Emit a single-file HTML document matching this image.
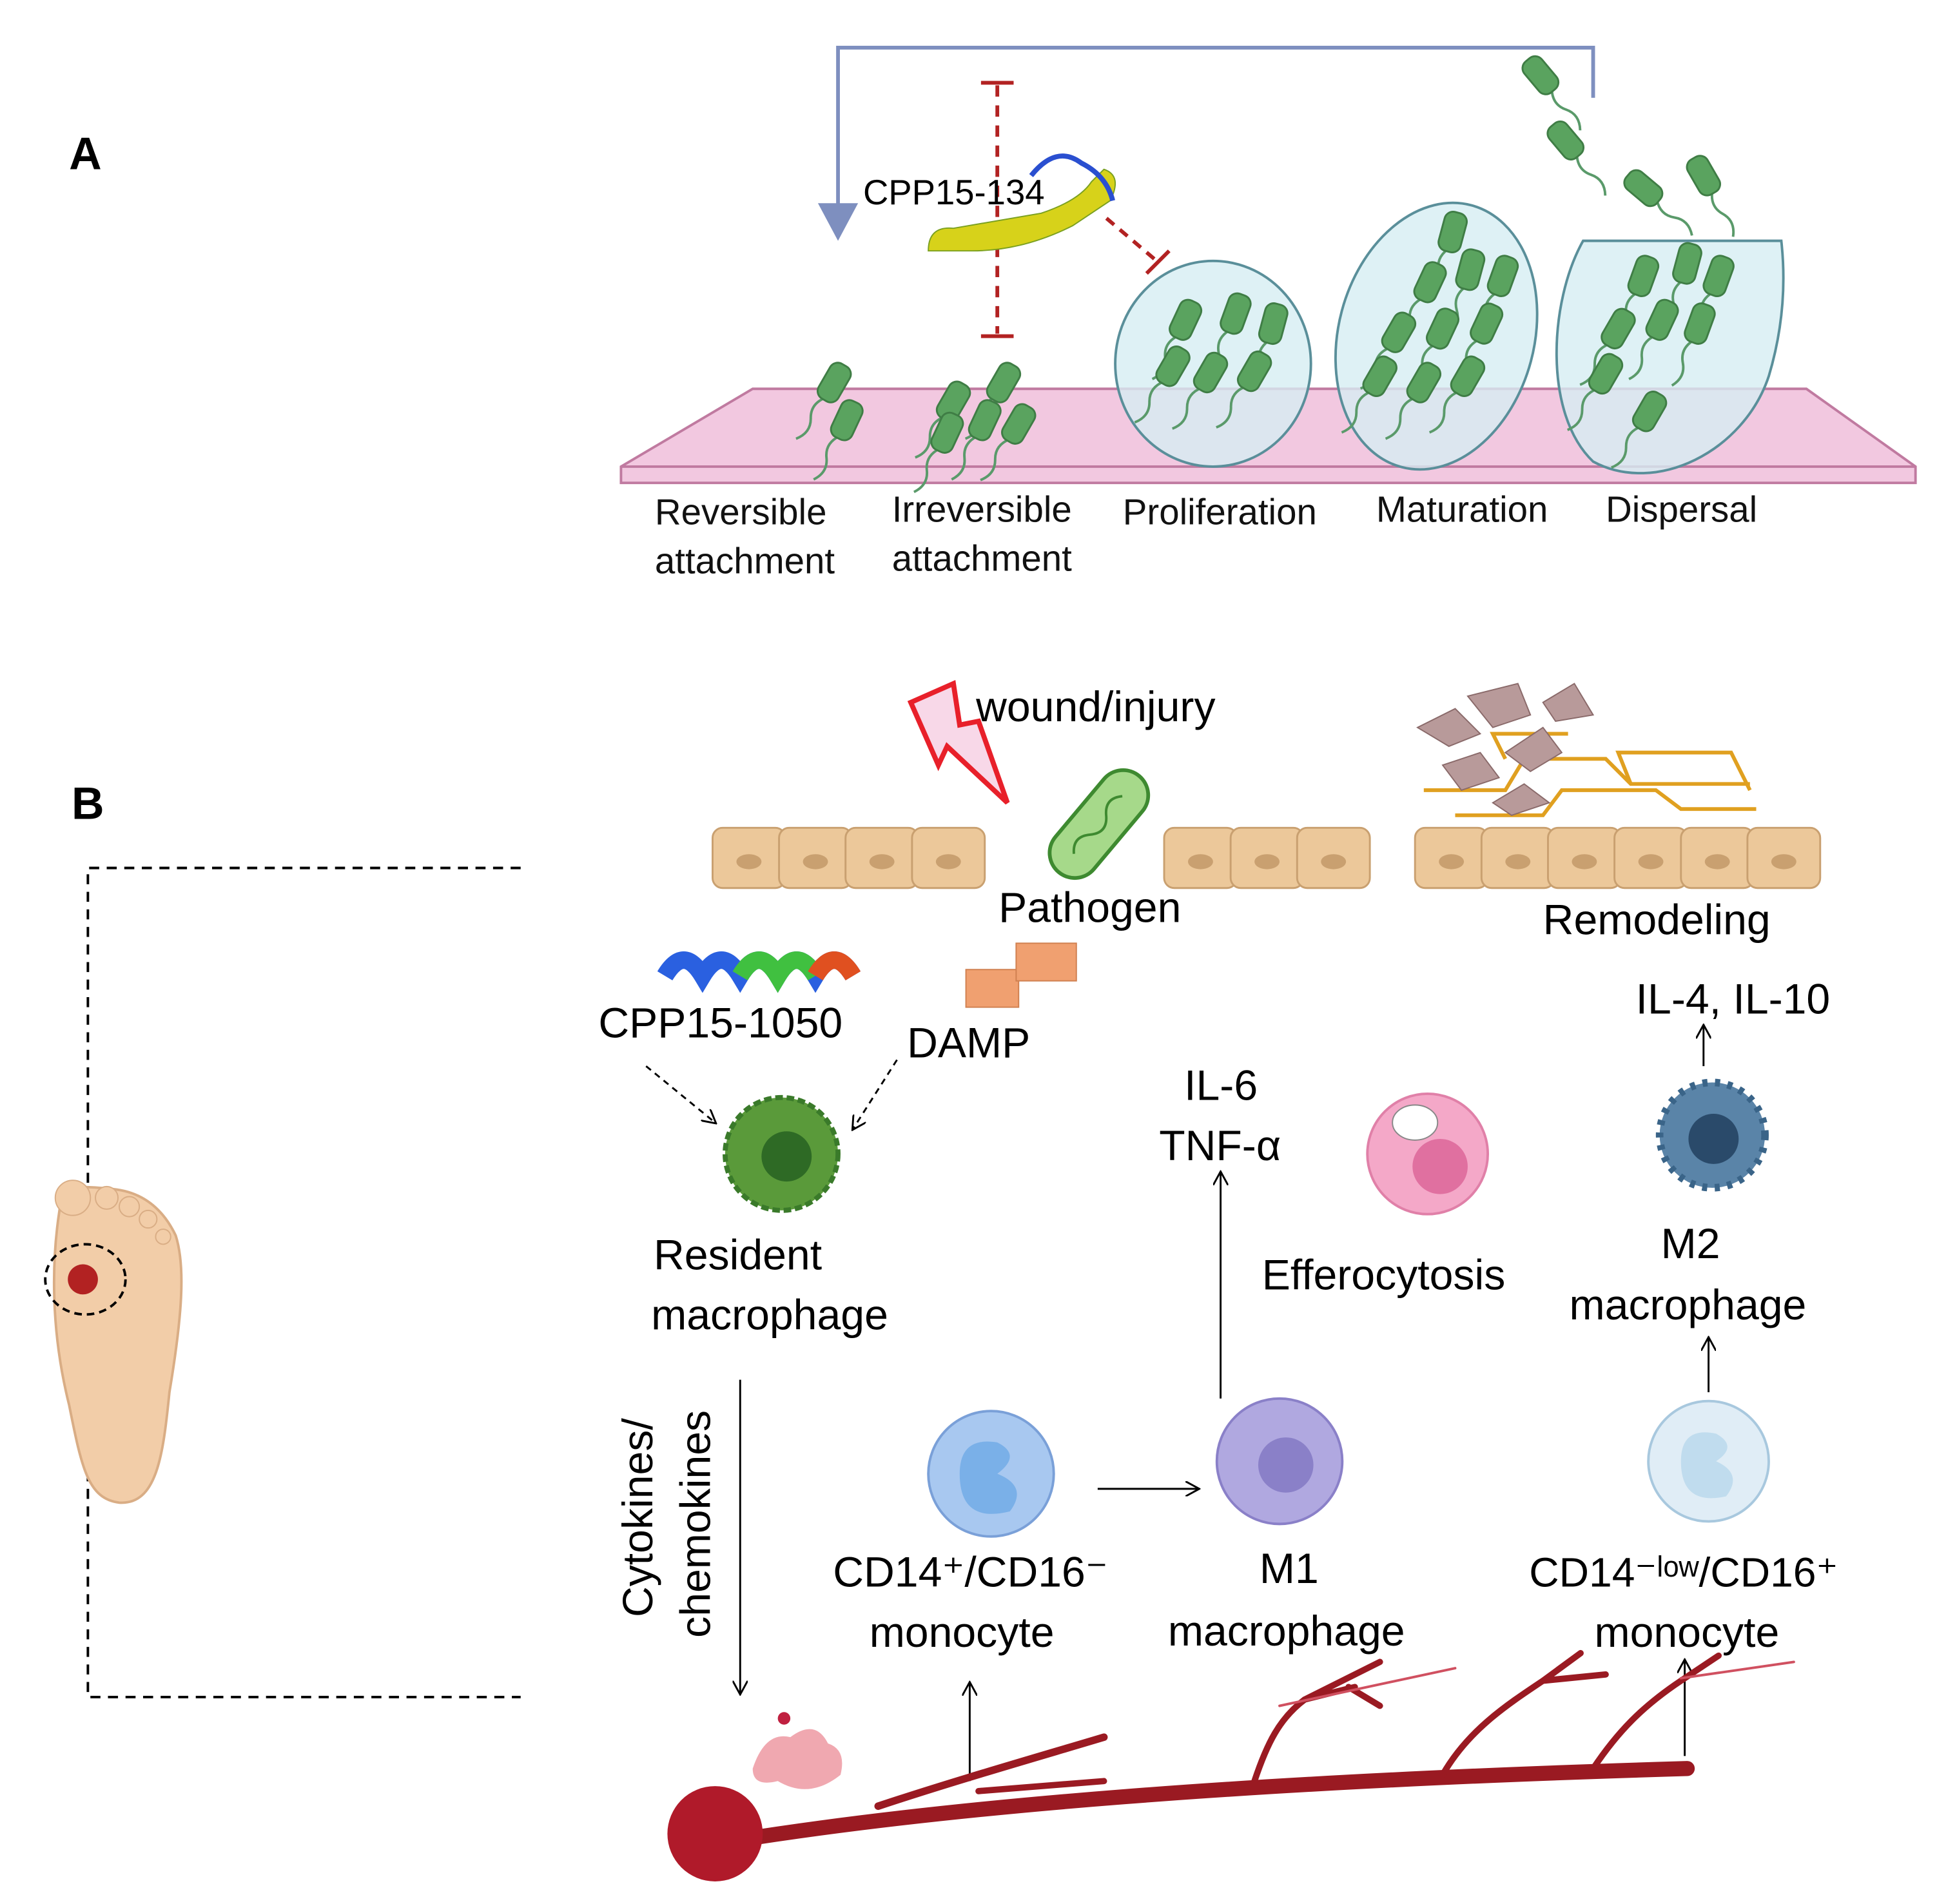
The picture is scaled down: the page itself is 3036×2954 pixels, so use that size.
<!DOCTYPE html>
<html><head><meta charset="utf-8"><style>html,body{margin:0;padding:0;background:#fff}svg{display:block}</style></head>
<body>
<svg width="3036" height="2954" viewBox="0 0 1560 1518" xmlns="http://www.w3.org/2000/svg" font-family="Liberation Sans, DejaVu Sans, sans-serif">
<defs>
<g id="bac"><path d="M0,14 q-8,10 -2,20 q6,10 -2,20" stroke="#5a9a6a" stroke-width="2" fill="none"/><rect x="-9" y="-16" width="18" height="32" rx="7" fill="#5aa35f" stroke="#3f7d45" stroke-width="1.5"/></g>
<g id="cell"><rect x="0" y="0" width="58" height="48" rx="8" fill="#ecc89a" stroke="#c9a070" stroke-width="1.5"/><ellipse cx="29" cy="27" rx="10" ry="6" fill="#c9a070"/></g>
<marker id="ah" markerWidth="12" markerHeight="12" refX="10" refY="6" orient="auto" markerUnits="userSpaceOnUse"><path d="M0,0 L11,6 L0,12" fill="none" stroke="#000" stroke-width="1.5"/></marker>
</defs>
<rect width="1560" height="1518" fill="#fff"/>
<!-- A -->
<text x="55" y="135" font-size="36" font-weight="bold">A</text>
<path d="M1270,78 V38 H668 V165" fill="none" stroke="#7e8fbf" stroke-width="3"/>
<path d="M652,162 L684,162 L668,192 Z" fill="#7e8fbf"/>
<g stroke="#b22222" stroke-width="3" fill="none">
<path d="M795,68 V266" stroke-dasharray="9,7"/><path d="M782,66 H808 M782,268 H808"/>
<path d="M882,174 L922,208" stroke-dasharray="8,6"/><path d="M914,218 L932,200"/>
</g>
<text x="688" y="163" font-size="28">CPP15-134</text>
<path d="M740,200 q0,-20 20,-18 l70,-12 q30,-10 40,-25 l10,-10 q15,5 5,25 l-30,20 q-40,20 -80,20 z" fill="#d7d21a" stroke="#7aa020"/>
<path d="M822,140 q20,-25 40,-10 q20,10 25,30" fill="none" stroke="#2a4fd0" stroke-width="4"/>
<path d="M495,372 L600,310 L1440,310 L1527,372 L1527,385 L495,385 Z" fill="#f2c8e0" stroke="#c07aa0" stroke-width="2"/>
<path d="M495,372 H1527" stroke="#c07aa0" stroke-width="2"/>
<ellipse cx="967" cy="290" rx="78" ry="82" fill="#d6eef2" fill-opacity="0.8" stroke="#5a8f9a" stroke-width="2"/>
<ellipse cx="1145" cy="268" rx="78" ry="108" transform="rotate(15 1145 268)" fill="#d6eef2" fill-opacity="0.8" stroke="#5a8f9a" stroke-width="2"/>
<path d="M1262,192 C1235,240 1230,330 1270,368 C1320,395 1390,360 1410,300 C1425,250 1422,210 1420,192 Z" fill="#d6eef2" fill-opacity="0.8" stroke="#5a8f9a" stroke-width="2"/>
<g>
<use href="#bac" transform="translate(665,305) rotate(30)"/><use href="#bac" transform="translate(675,335) rotate(25)"/>
<use href="#bac" transform="translate(760,320) rotate(30)"/><use href="#bac" transform="translate(800,305) rotate(30)"/><use href="#bac" transform="translate(785,335) rotate(25)"/><use href="#bac" transform="translate(812,338) rotate(30)"/><use href="#bac" transform="translate(755,345) rotate(25)"/>
<use href="#bac" transform="translate(945,255) rotate(25)"/><use href="#bac" transform="translate(985,250) rotate(20)"/><use href="#bac" transform="translate(1015,258) rotate(15)"/><use href="#bac" transform="translate(935,292) rotate(30)"/><use href="#bac" transform="translate(965,297) rotate(30)"/><use href="#bac" transform="translate(1000,296) rotate(30)"/>
<use href="#bac" transform="translate(1158,185) rotate(15)"/><use href="#bac" transform="translate(1140,225) rotate(25)"/><use href="#bac" transform="translate(1172,215) rotate(15)"/><use href="#bac" transform="translate(1198,220) rotate(20)"/><use href="#bac" transform="translate(1115,265) rotate(30)"/><use href="#bac" transform="translate(1150,262) rotate(25)"/><use href="#bac" transform="translate(1185,258) rotate(25)"/><use href="#bac" transform="translate(1100,300) rotate(30)"/><use href="#bac" transform="translate(1135,305) rotate(30)"/><use href="#bac" transform="translate(1170,300) rotate(30)"/>
<use href="#bac" transform="translate(1310,220) rotate(20)"/><use href="#bac" transform="translate(1345,210) rotate(15)"/><use href="#bac" transform="translate(1370,220) rotate(20)"/><use href="#bac" transform="translate(1290,262) rotate(30)"/><use href="#bac" transform="translate(1325,255) rotate(25)"/><use href="#bac" transform="translate(1355,258) rotate(20)"/><use href="#bac" transform="translate(1280,298) rotate(30)"/><use href="#bac" transform="translate(1315,328) rotate(30)"/>
<use href="#bac" transform="translate(1228,60) rotate(-40)"/><use href="#bac" transform="translate(1248,112) rotate(-40)"/><use href="#bac" transform="translate(1310,150) rotate(-50)"/><use href="#bac" transform="translate(1358,140) rotate(-30)"/>
</g>
<g font-size="29" fill="#111">
<text x="522" y="418">Reversible</text><text x="522" y="457">attachment</text>
<text x="711" y="416">Irreversible</text><text x="711" y="455">attachment</text>
<text x="895" y="418">Proliferation</text><text x="1097" y="416">Maturation</text><text x="1280" y="416">Dispersal</text>
</g>
<!-- B -->
<text x="57" y="653" font-size="36" font-weight="bold">B</text>
<path d="M415,692 H70 V1353 H415" fill="none" stroke="#000" stroke-width="2" stroke-dasharray="8,6"/>
<path d="M50,950 C40,1000 40,1060 55,1120 C65,1170 70,1195 95,1198 C125,1200 130,1160 135,1110 C145,1050 148,1010 140,985 C128,960 110,950 90,948 C70,946 55,945 50,950 Z" fill="#f2cda8" stroke="#d9ad85" stroke-width="2"/>
<circle cx="58" cy="955" r="14" fill="#f2cda8" stroke="#d9ad85"/><circle cx="85" cy="955" r="9" fill="#f2cda8" stroke="#d9ad85"/><circle cx="103" cy="962" r="8" fill="#f2cda8" stroke="#d9ad85"/><circle cx="118" cy="972" r="7" fill="#f2cda8" stroke="#d9ad85"/><circle cx="130" cy="986" r="6" fill="#f2cda8" stroke="#d9ad85"/>
<ellipse cx="68" cy="1020" rx="32" ry="28" fill="none" stroke="#000" stroke-width="2" stroke-dasharray="6,4"/>
<circle cx="66" cy="1020" r="12" fill="#b22222"/>
<path d="M726,560 L760,545 L765,578 L780,575 L803,640 L755,595 L748,610 Z" fill="#f8d8e8" stroke="#e8202a" stroke-width="4"/>
<text x="778" y="575" font-size="34">wound/injury</text>
<g><use href="#cell" transform="translate(568,660)"/><use href="#cell" transform="translate(621,660)"/><use href="#cell" transform="translate(674,660)"/><use href="#cell" transform="translate(727,660)"/>
<use href="#cell" transform="translate(928,660)"/><use href="#cell" transform="translate(981,660)"/><use href="#cell" transform="translate(1034,660)"/>
<use href="#cell" transform="translate(1128,660)"/><use href="#cell" transform="translate(1181,660)"/><use href="#cell" transform="translate(1234,660)"/><use href="#cell" transform="translate(1287,660)"/><use href="#cell" transform="translate(1340,660)"/><use href="#cell" transform="translate(1393,660)"/></g>
<g stroke="#e0a020" stroke-width="3" fill="none"><path d="M1135,630 H1200 L1215,605 H1280 L1300,625 H1395 M1160,650 H1230 L1245,630 H1320 L1340,645 H1400 M1200,605 L1190,585 H1250 M1300,625 L1290,600 H1380 L1395,630"/></g>
<g fill="#b89a9a" stroke="#8a6a6a"><path d="M1130,580 l30,-15 l20,20 l-25,10z"/><path d="M1170,555 l40,-10 l10,25 l-30,10z"/><path d="M1230,560 l25,-15 l15,25 l-30,5z"/><path d="M1150,610 l30,-10 l15,20 l-30,10z"/><path d="M1200,600 l30,-20 l15,20 l-25,15z"/><path d="M1190,640 l25,-15 l20,15 l-30,10z"/></g>
<g transform="rotate(-50 876 657)"><rect x="826" y="637" width="100" height="40" rx="20" fill="#a6d98a" stroke="#3e8a30" stroke-width="3"/><path d="M845,657 q10,-10 20,0 t20,0 t20,0" stroke="#3e8a30" fill="none" stroke-width="2"/></g>
<text x="796" y="735" font-size="34">Pathogen</text>
<text x="1230" y="745" font-size="34">Remodeling</text>
<g><path d="M530,778 q15,-25 30,0 q15,-25 30,0 q15,-25 30,0 q15,-25 30,0 q15,-25 30,0" stroke="#2a60e0" stroke-width="14" fill="none"/><path d="M590,778 q15,-25 30,0 q15,-25 30,0" stroke="#40c040" stroke-width="14" fill="none"/><path d="M650,778 q15,-25 30,0" stroke="#e05020" stroke-width="14" fill="none"/></g>
<text x="477" y="827" font-size="34">CPP15-1050</text>
<rect x="770" y="773" width="42" height="30" fill="#f0a070" stroke="#d08050"/><rect x="810" y="752" width="48" height="30" fill="#f0a070" stroke="#d08050"/>
<text x="723" y="843" font-size="34">DAMP</text>
<g stroke="#000" stroke-width="1.5" stroke-dasharray="5,4" fill="none" marker-end="url(#ah)"><path d="M515,850 L570,895"/><path d="M715,845 L680,900"/></g>
<circle cx="623" cy="920" r="45" fill="#5a9a3a" stroke="#3a7a2a" stroke-width="4" stroke-dasharray="6,3"/><circle cx="627" cy="922" r="20" fill="#2e6a25"/>
<text x="521" y="1012" font-size="34">Resident</text><text x="519" y="1060" font-size="34">macrophage</text>
<g stroke="#000" stroke-width="1.5" fill="none" marker-end="url(#ah)">
<path d="M590,1100 V1350"/><path d="M875,1187 H955"/><path d="M973,1115 V935"/><path d="M1358,850 V818"/><path d="M1362,1110 V1067"/><path d="M773,1420 V1342"/><path d="M1343,1400 V1324"/></g>
<text transform="translate(520,1210) rotate(-90)" font-size="34" text-anchor="middle">Cytokines/</text>
<text transform="translate(566,1215) rotate(-90)" font-size="34" text-anchor="middle">chemokines</text>
<circle cx="790" cy="1175" r="50" fill="#a8c8f0" stroke="#7aa0d8" stroke-width="2"/><path d="M765,1175 q0,-30 30,-25 q20,10 0,25 q25,10 10,30 q-40,10 -40,-30z" fill="#7ab0e8"/>
<text x="664" y="1265" font-size="34">CD14⁺/CD16⁻</text><text x="693" y="1313" font-size="34">monocyte</text>
<circle cx="1020" cy="1165" r="50" fill="#b0a8e0" stroke="#8a80c8" stroke-width="2"/><circle cx="1025" cy="1168" r="22" fill="#8a80c8"/>
<text x="1004" y="1262" font-size="34">M1</text><text x="931" y="1312" font-size="34">macrophage</text>
<text x="944" y="877" font-size="34">IL-6</text><text x="924" y="925" font-size="34">TNF-α</text>
<circle cx="1138" cy="920" r="48" fill="#f4a8c8" stroke="#e080a8" stroke-width="2"/><circle cx="1148" cy="930" r="22" fill="#e070a0"/><ellipse cx="1128" cy="895" rx="18" ry="14" fill="#fff" stroke="#888"/>
<text x="1006" y="1028" font-size="34">Efferocytosis</text>
<circle cx="1365" cy="905" r="42" fill="#5a84a8" stroke="#3a6488" stroke-width="6" stroke-dasharray="4,6"/><circle cx="1366" cy="908" r="20" fill="#2a4a6a"/>
<text x="1304" y="808" font-size="34">IL-4, IL-10</text>
<text x="1324" y="1003" font-size="34">M2</text><text x="1251" y="1052" font-size="34">macrophage</text>
<circle cx="1362" cy="1165" r="48" fill="#e0edf6" stroke="#a8c8de" stroke-width="2"/><path d="M1340,1165 q0,-28 28,-22 q18,10 0,22 q22,10 8,28 q-36,8 -36,-28z" fill="#c0dcee"/>
<text x="1219" y="1265" font-size="33">CD14⁻ˡᵒʷ/CD16⁺</text><text x="1271" y="1313" font-size="34">monocyte</text>
<g fill="none" stroke="#9a1a22" stroke-linecap="round">
<path d="M570,1470 C750,1440 1000,1420 1345,1410" stroke-width="12"/>
<path d="M700,1440 C760,1420 830,1400 880,1385" stroke-width="6"/><path d="M780,1428 L880,1420" stroke-width="5"/>
<path d="M1000,1420 C1010,1390 1020,1370 1040,1355 L1080,1345 M1040,1355 L1100,1325 M1075,1345 L1100,1360" stroke-width="5"/>
<path d="M1150,1415 C1170,1380 1200,1360 1230,1340 L1260,1318 M1230,1340 L1280,1335" stroke-width="5"/>
<path d="M1270,1410 C1290,1380 1310,1360 1340,1340 L1370,1320" stroke-width="5"/>
<path d="M1020,1360 L1160,1330" stroke="#d05060" stroke-width="2"/><path d="M1340,1338 L1430,1325" stroke="#d05060" stroke-width="2"/>
</g>
<circle cx="570" cy="1462" r="38" fill="#b01a2a"/>
<path d="M600,1410 q10,-30 30,-25 q20,-15 30,5 q15,5 10,25 q-25,20 -50,5 q-20,5 -20,-10z" fill="#f0a8b0"/><circle cx="625" cy="1370" r="5" fill="#c02040"/>
</svg>
</body></html>
